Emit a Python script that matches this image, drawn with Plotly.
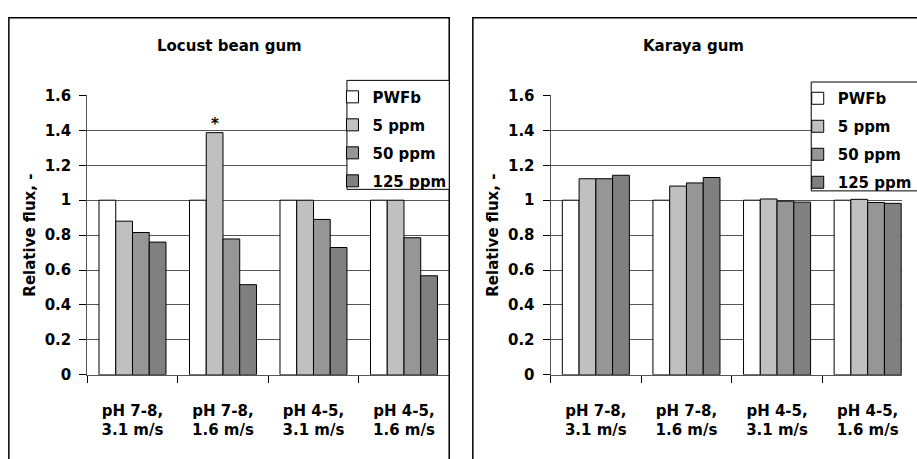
import plotly.graph_objects as go

# ---- data ----
categories = ["pH 7-8,<br>3.1 m/s", "pH 7-8,<br>1.6 m/s",
              "pH 4-5,<br>3.1 m/s", "pH 4-5,<br>1.6 m/s"]
series_names = ["PWFb", "5 ppm", "50 ppm", "125 ppm"]

locust_pwfb = [1.0, 1.0, 1.0, 1.0]
locust_5ppm = [0.88, 1.387, 1.0, 1.0]
locust_50ppm = [0.815, 0.778, 0.89, 0.785]
locust_125ppm = [0.76, 0.516, 0.729, 0.567]

karaya_pwfb = [1.0, 1.0, 1.0, 1.0]
karaya_5ppm = [1.123, 1.081, 1.007, 1.005]
karaya_50ppm = [1.123, 1.099, 0.995, 0.987]
karaya_125ppm = [1.143, 1.130, 0.989, 0.982]

y_tickvals = [0, 0.2, 0.4, 0.6, 0.8, 1.0, 1.2, 1.4, 1.6]
y_ticktext = ["0", "0.2", "0.4", "0.6", "0.8", "1", "1.2", "1.4", "1.6"]

panel_titles = ["Locust bean gum", "Karaya gum"]
y_title = "Relative flux, -"

# ---- style ----
W, H = 917, 459
colors = ["#ffffff", "#c0c0c0", "#969696", "#808080"]
FONT = dict(family="DejaVu Sans", size=15, color="#000000", weight="bold")
GRID = "#555555"


def px(x):
    return x / W


def py(y):
    return 1 - y / H


fig = go.Figure()

panels = [
    ([locust_pwfb, locust_5ppm, locust_50ppm, locust_125ppm], "x", "y", "legend"),
    ([karaya_pwfb, karaya_5ppm, karaya_50ppm, karaya_125ppm], "x2", "y2", "legend2"),
]
for p, (series, xa, ya, leg) in enumerate(panels):
    for name, vals, col in zip(series_names, series, colors):
        fig.add_trace(go.Bar(
            x=categories, y=vals, name=name, xaxis=xa, yaxis=ya,
            legend=leg, legendgroup=f"{leg}-{name}",
            marker=dict(color=col, line=dict(color="#000000", width=1)),
            hoverinfo="skip",
        ))

y_dom = [py(380.7), py(90)]
common_x = dict(
    type="category", tickson="boundaries", ticks="outside", ticklen=7,
    tickcolor="#000000", showline=True, linecolor=GRID, linewidth=1,
    showgrid=False, tickfont=FONT, ticklabelstandoff=22, fixedrange=True,
)
common_y = dict(
    range=[0, 1.6], tickvals=y_tickvals, ticktext=y_ticktext,
    ticks="outside", ticklen=7, tickcolor="#000000",
    showline=True, linecolor=GRID, linewidth=1,
    showgrid=True, gridcolor=GRID, gridwidth=1, zeroline=False,
    tickfont=FONT, ticklabelstandoff=5, domain=y_dom, fixedrange=True,
    title=dict(text=y_title, font=FONT, standoff=5),
)

fig.update_layout(
    width=W, height=H,
    margin=dict(l=0, r=0, t=0, b=0),
    paper_bgcolor="#ffffff", plot_bgcolor="#ffffff",
    barmode="group", bargap=0.26, bargroupgap=0,
    font=FONT,
    xaxis=dict(common_x, domain=[px(88.7), px(456.7)], range=[-0.5, 3.5], anchor="y"),
    yaxis=dict(common_y, anchor="x"),
    xaxis2=dict(common_x, domain=[px(559.7), 1.0], range=[-0.5, 3.379], anchor="y2"),
    yaxis2=dict(common_y, anchor="x2"),
    legend=dict(x=px(338), y=py(74.5), xanchor="left", yanchor="top",
                bgcolor="rgba(0,0,0,0)", borderwidth=0, font=FONT,
                tracegroupgap=5.5, entrywidth=60),
    legend2=dict(x=px(811), y=py(76), xanchor="left", yanchor="top",
                 bgcolor="rgba(0,0,0,0)", borderwidth=0, font=FONT,
                 tracegroupgap=5.5, entrywidth=59),
    showlegend=True,
)

# panel frames (open at the bottom / right where the page cuts them)
fig.add_shape(type="rect", xref="paper", yref="paper",
              x0=px(9), x1=px(456.7), y0=py(475), y1=py(9),
              line=dict(color="#000000", width=1.5), layer="above")
fig.add_shape(type="rect", xref="paper", yref="paper",
              x0=px(480.7), x1=px(940), y0=py(475), y1=py(9),
              line=dict(color="#000000", width=1.5), layer="above")

# legend boxes
fig.add_shape(type="rect", xref="paper", yref="paper",
              x0=px(352.7), x1=px(456.7), y0=py(187.7), y1=py(74.3),
              fillcolor="#ffffff", line=dict(color="#000000", width=1), layer="above")
fig.add_shape(type="rect", xref="paper", yref="paper",
              x0=px(824.7), x1=px(940), y0=py(189.3), y1=py(76),
              fillcolor="#ffffff", line=dict(color="#000000", width=1), layer="above")

# panel titles
for title, cx in zip(panel_titles, [233, 705]):
    fig.add_annotation(text=title, xref="paper", yref="paper",
                       x=px(cx), y=py(38), xanchor="center", yanchor="middle",
                       showarrow=False, font=FONT)

# significance marker above the 5 ppm bar, pH 7-8 / 1.6 m/s
bar_w = (1 - 0.26) / 4
fig.add_annotation(text="*", xref="x", yref="y",
                   x=1 - bar_w / 2, y=locust_5ppm[1],
                   xanchor="center", yanchor="bottom", showarrow=False,
                   font=FONT, yshift=-2)

fig.write_html("out.html")
